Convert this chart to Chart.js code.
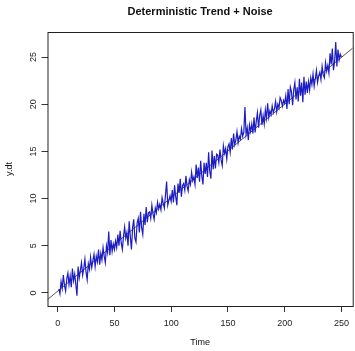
<!DOCTYPE html>
<html>
<head>
<meta charset="utf-8">
<script src="https://cdn.jsdelivr.net/npm/chart.js@4"></script>
<style>
  html, body { margin: 0; padding: 0; background: #fff; }
  #wrap { width: 355px; height: 351px; }
</style>
</head>
<body>
<div id="wrap"><canvas id="chart" width="355" height="351"></canvas></div>
<script>
// series, t = 1..250
const yDt = [
    0.4, -0.1, 1.2, 0.5, 1.9, 0.8, 0.2, 1.5, 2.1, 0.9,
    1.8, 0.6, 2.6, 1.3, 2.0, 0.9, -0.3, 2.8, 1.6, 2.4,
    3.2, 1.9, 2.6, 3.6, 2.2, 1.4, 3.1, 2.5, 3.8, 2.7,
    3.4, 4.1, 2.8, 3.9, 3.3, 4.6, 3.0, 4.2, 3.5, 4.8,
    3.9, 3.2, 5.0, 4.3, 6.5, 4.0, 5.6, 4.4, 5.2, 4.6,
    5.5, 4.8, 6.2, 5.0, 6.6, 5.3, 4.6, 6.0, 7.0, 5.8,
    6.4, 5.0, 7.6, 6.0, 4.6, 6.9, 7.8, 5.8, 5.4, 7.4,
    7.9, 6.4, 8.6, 6.9, 6.2, 8.4, 7.2, 9.1, 7.5, 8.5,
    8.6, 7.9, 9.3, 8.4, 7.8, 9.0, 8.5, 9.6, 8.9, 9.4,
    8.8, 10.1, 9.5, 9.0, 10.4, 11.8, 9.3, 9.8, 10.3, 9.7,
    10.9, 9.6, 11.4, 10.2, 9.3, 11.6, 10.6, 12.1, 10.2, 11.4,
    11.6, 10.9, 12.4, 11.3, 10.8, 12.0, 11.5, 12.8, 11.9, 12.3,
    11.5, 13.6, 12.2, 13.3, 11.8, 14.0, 12.4, 11.5, 13.8, 12.6,
    13.8, 12.3, 14.9, 12.9, 12.1, 15.1, 13.1, 14.5, 13.2, 14.7,
    14.6, 13.8, 15.2, 14.1, 13.5, 15.6, 14.8, 15.3, 14.2, 15.5,
    15.8, 14.9, 16.4, 15.2, 16.9, 15.7, 16.2, 17.1, 15.9, 16.6,
    16.3, 17.4, 16.6, 17.0, 19.7, 16.8, 17.5, 16.2, 17.8, 17.1,
    17.9, 16.9, 18.6, 17.0, 18.2, 19.1, 17.5, 18.8, 19.4, 17.8,
    18.8, 17.9, 19.4, 18.5, 20.1, 18.6, 19.3, 18.9, 19.8, 19.1,
    19.5, 20.3, 19.2, 20.0, 19.6, 20.7, 20.4, 19.8, 20.4, 20.1,
    20.9, 19.5, 21.6, 20.0, 21.8, 21.3, 19.9, 21.5, 22.3, 20.5,
    21.8, 20.3, 22.7, 20.9, 22.3, 20.2, 22.9, 21.0, 22.4, 21.2,
    22.4, 21.5, 22.8, 22.1, 23.2, 21.9, 22.7, 23.6, 22.3, 23.0,
    23.4, 22.6, 24.0, 23.1, 22.8, 24.4, 23.5, 24.1, 23.3, 25.4,
    24.2, 25.9, 23.6, 24.5, 26.6, 24.0, 25.8, 24.7, 25.3, 25.0
];

// fitted trend line, end points
const trendX = [-9, 260];
const trendY = [-0.7, 25.95];

const xTicks = [0, 50, 100, 150, 200, 250];
const yTicks = [0, 5, 10, 15, 20, 25];

const timeIdx = yDt.map((v, i) => i + 1);

const boxPlugin = {
    id: 'box',
    afterDraw(chart) {
        const a = chart.chartArea;
        const ctx = chart.ctx;
        ctx.save();
        ctx.strokeStyle = '#222';
        ctx.lineWidth = 1;
        ctx.strokeRect(a.left + 0.5, a.top + 0.5, a.right - a.left, a.bottom - a.top);
        ctx.restore();
    }
};

const fontFam = '"Liberation Sans", Arial, sans-serif';

new Chart(document.getElementById('chart').getContext('2d'), {
    type: 'line',
    data: {
        datasets: [{
            data: timeIdx.map((t, i) => ({ x: t, y: yDt[i] })),
            borderColor: '#1c1cc4',
            borderWidth: 1.2,
            pointRadius: 0,
            tension: 0
        }, {
            data: trendX.map((t, i) => ({ x: t, y: trendY[i] })),
            borderColor: '#555',
            borderWidth: 1,
            pointRadius: 0,
            tension: 0
        }]
    },
    options: {
        responsive: false,
        animation: false,
        layout: { padding: 0 },
        plugins: {
            legend: { display: false },
            tooltip: { enabled: false },
            title: {
                display: true,
                text: 'Deterministic Trend + Noise',
                fullSize: false,
                color: '#111',
                font: { family: fontFam, size: 11, weight: 'bold' },
                padding: { top: 5, bottom: 13.8 }
            }
        },
        scales: {
            x: {
                type: 'linear',
                min: -8.96,
                max: 259.96,
                afterBuildTicks: s => { s.ticks = xTicks.map(v => ({ value: v })); },
                afterFit: s => { s.height = 45; },
                grid: { drawOnChartArea: false, tickLength: 6, color: '#333' },
                border: { display: false },
                ticks: { color: '#222', font: { family: fontFam, size: 9 }, padding: 6, maxRotation: 0 },
                title: { display: true, text: 'Time', color: '#111', font: { family: fontFam, size: 9 }, padding: { top: 4, bottom: 3 } }
            },
            y: {
                type: 'linear',
                min: -1.38,
                max: 27.65,
                afterBuildTicks: s => { s.ticks = yTicks.map(v => ({ value: v })); },
                afterFit: s => { s.width = 47.5; },
                grid: { drawOnChartArea: false, tickLength: 6, color: '#333' },
                border: { display: false },
                ticks: { color: '#222', font: { family: fontFam, size: 9 }, padding: 3, minRotation: 90, maxRotation: 90, crossAlign: 'center' },
                title: { display: true, text: 'y.dt', color: '#111', font: { family: fontFam, size: 9 }, padding: { top: 4, bottom: 4 } }
            }
        }
    },
    plugins: [boxPlugin]
});
</script>
</body>
</html>
